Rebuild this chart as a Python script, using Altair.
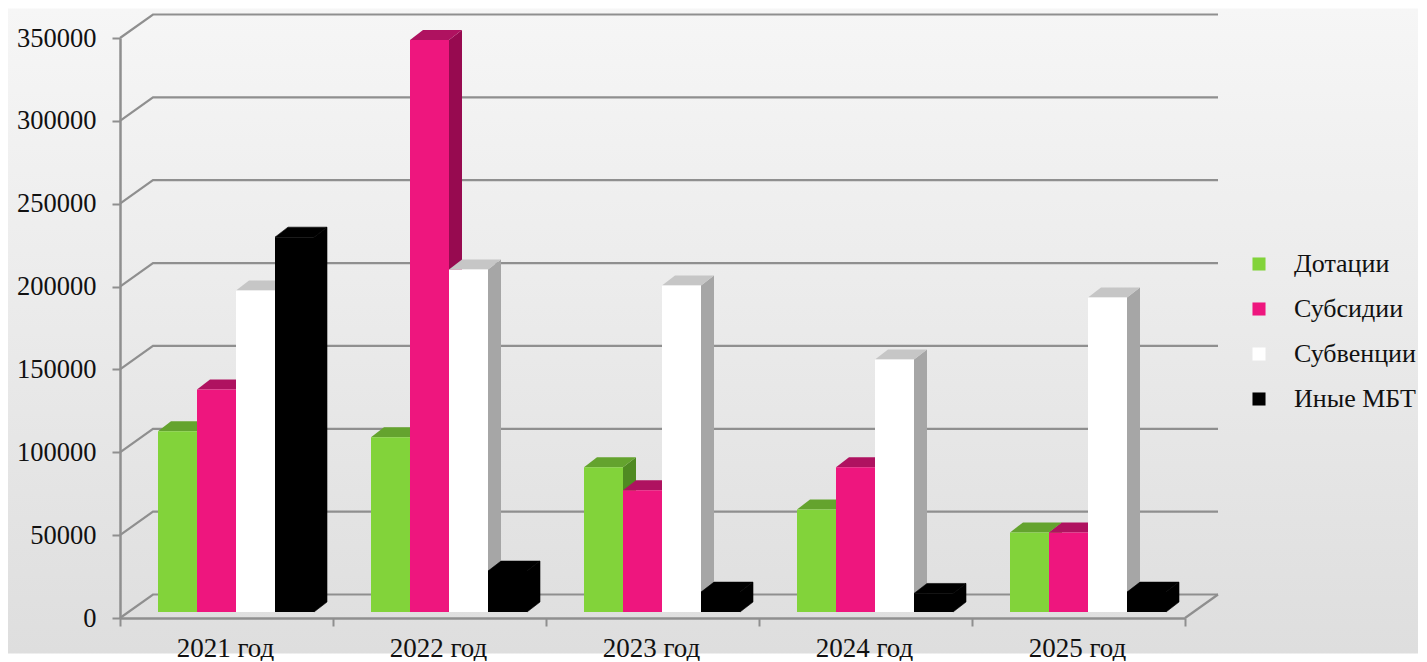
import altair as alt
import pandas as pd

years = ["2021 год", "2022 год", "2023 год", "2024 год", "2025 год"]
series = ["Дотации", "Субсидии", "Субвенции", "Иные МБТ"]
dotacii = [109000, 105400, 87300, 61900, 48000]
subsidii = [134300, 345200, 73400, 87300, 48000]
subvencii = [194000, 206700, 197100, 152400, 189800]
inye = [226200, 24700, 12000, 11200, 12000]
all_values = [dotacii, subsidii, subvencii, inye]
grid_values = [0, 50000, 100000, 150000, 200000, 250000, 300000, 350000]

front_colors = ["#82d33a", "#ee167e", "#ffffff", "#000000"]
top_colors = ["#64a32e", "#af1260", "#c6c6c6", "#000000"]
side_colors = ["#4f8a22", "#970a50", "#a6a6a6", "#000000"]

W, H = 1065, 580
FONT = "Liberation Serif"
GREY = "#8f8f8f"
ux = 5 / W                # x units per pixel of projection
uy = 350000 / H           # value units per pixel of projection
wall_dx, wall_dy = 33 * ux, 23.5 * uy
bar_dx, bar_dy = 13 * ux, 10 * uy
bar_w = 39 * ux
bar_start = 38 * ux
base = 6 * uy

x_scale = alt.Scale(domain=[0, 5], nice=False, zero=False)
y_scale = alt.Scale(domain=[0, 350000], nice=False, zero=False)

# background
bg = alt.Chart(pd.DataFrame({"a": [0]})).mark_rect(
    color=alt.LinearGradient(
        gradient="linear", x1=0, x2=0, y1=0, y2=1,
        stops=[alt.GradientStop(offset=0, color="#f6f6f6"),
               alt.GradientStop(offset=1, color="#dedede")],
    )
).encode(x=alt.value(-112), x2=alt.value(1298), y=alt.value(-29.5), y2=alt.value(615.5))

# walls
grid_rows = []
for v in grid_values:
    grid_rows += [
        {"id": f"w{v}", "o": 0, "x": 0, "y": v},
        {"id": f"w{v}", "o": 1, "x": wall_dx, "y": v + wall_dy},
        {"id": f"w{v}", "o": 2, "x": 5 + wall_dx, "y": v + wall_dy},
    ]
grid_rows += [
    {"id": "floor", "o": 0, "x": 5, "y": 0},
    {"id": "floor", "o": 1, "x": 5 + wall_dx, "y": wall_dy},
]
grid = alt.Chart(pd.DataFrame(grid_rows)).mark_line(color=GREY, strokeWidth=2.2).encode(
    x=alt.X("x:Q", scale=x_scale,
            axis=alt.Axis(values=[0, 1, 2, 3, 4, 5], title=None, grid=False, zindex=1,
                          domainColor=GREY, domainWidth=2.5, tickColor=GREY, tickWidth=2,
                          tickSize=8, labelFont=FONT, labelFontSize=27, labelColor="#111111",
                          labelPadding=9, labelOffset=105, labelBound=False, labelFlush=False,
                          labelExpr="['2021 год','2022 год','2023 год','2024 год','2025 год',''][datum.value]")),
    y=alt.Y("y:Q", scale=y_scale,
            axis=alt.Axis(values=grid_values, title=None, grid=False, format="d", zindex=1,
                          domainColor=GREY, domainWidth=2.5, tickColor=GREY, tickWidth=2,
                          tickSize=8, labelFont=FONT, labelFontSize=26.5, labelColor="#111111",
                          labelPadding=16)),
    detail="id:N",
    order="o:Q",
)

layers = [bg, grid]
color_enc = alt.Color("series:N",
    scale=alt.Scale(domain=series, range=front_colors),
    legend=alt.Legend(orient="none", legendX=1126, legendY=213, title=None,
                      symbolType="square", symbolSize=170, symbolStrokeWidth=0, symbolOpacity=1,
                      labelFont=FONT, labelFontSize=26, labelColor="#111111", labelLimit=300,
                      rowPadding=19, labelOffset=22, values=series))

for s, name in enumerate(series):
    front, top, side = [], [], []
    for g, year in enumerate(years):
        v = all_values[s][g]
        l = g + bar_start + s * bar_w
        r = l + bar_w
        t = v + base
        front.append({"series": name, "l": l, "r": r, "b": base, "t": t})
        side += [
            {"id": g, "x": r, "y": t, "y2": base},
            {"id": g, "x": r + bar_dx, "y": t + bar_dy, "y2": base + bar_dy},
        ]
        top += [
            {"id": g, "x": l, "y": t, "y2": t},
            {"id": g, "x": l + bar_dx, "y": t + bar_dy, "y2": t},
            {"id": g, "x": r, "y": t + bar_dy, "y2": t},
            {"id": g, "x": r + bar_dx, "y": t + bar_dy, "y2": t + bar_dy},
        ]
    seam = {"stroke": "#000000", "strokeWidth": 0.6} if s == 3 else {}
    side_layer = alt.Chart(pd.DataFrame(side)).mark_area(color=side_colors[s], **seam).encode(
        x=alt.X("x:Q", scale=x_scale), y=alt.Y("y:Q", scale=y_scale, stack=None), y2="y2:Q", detail="id:N")
    top_layer = alt.Chart(pd.DataFrame(top)).mark_area(color=top_colors[s], **seam).encode(
        x=alt.X("x:Q", scale=x_scale), y=alt.Y("y:Q", scale=y_scale, stack=None), y2="y2:Q", detail="id:N")
    front_layer = alt.Chart(pd.DataFrame(front)).mark_rect().encode(
        x=alt.X("l:Q", scale=x_scale), x2="r:Q",
        y=alt.Y("b:Q", scale=y_scale), y2="t:Q", color=color_enc)
    layers += [side_layer, top_layer, front_layer]

chart = alt.layer(*layers).properties(
    width=W, height=H, padding=0
).configure_view(stroke=None)

chart.save("out.html", embed_options={"renderer": "svg", "actions": False})
